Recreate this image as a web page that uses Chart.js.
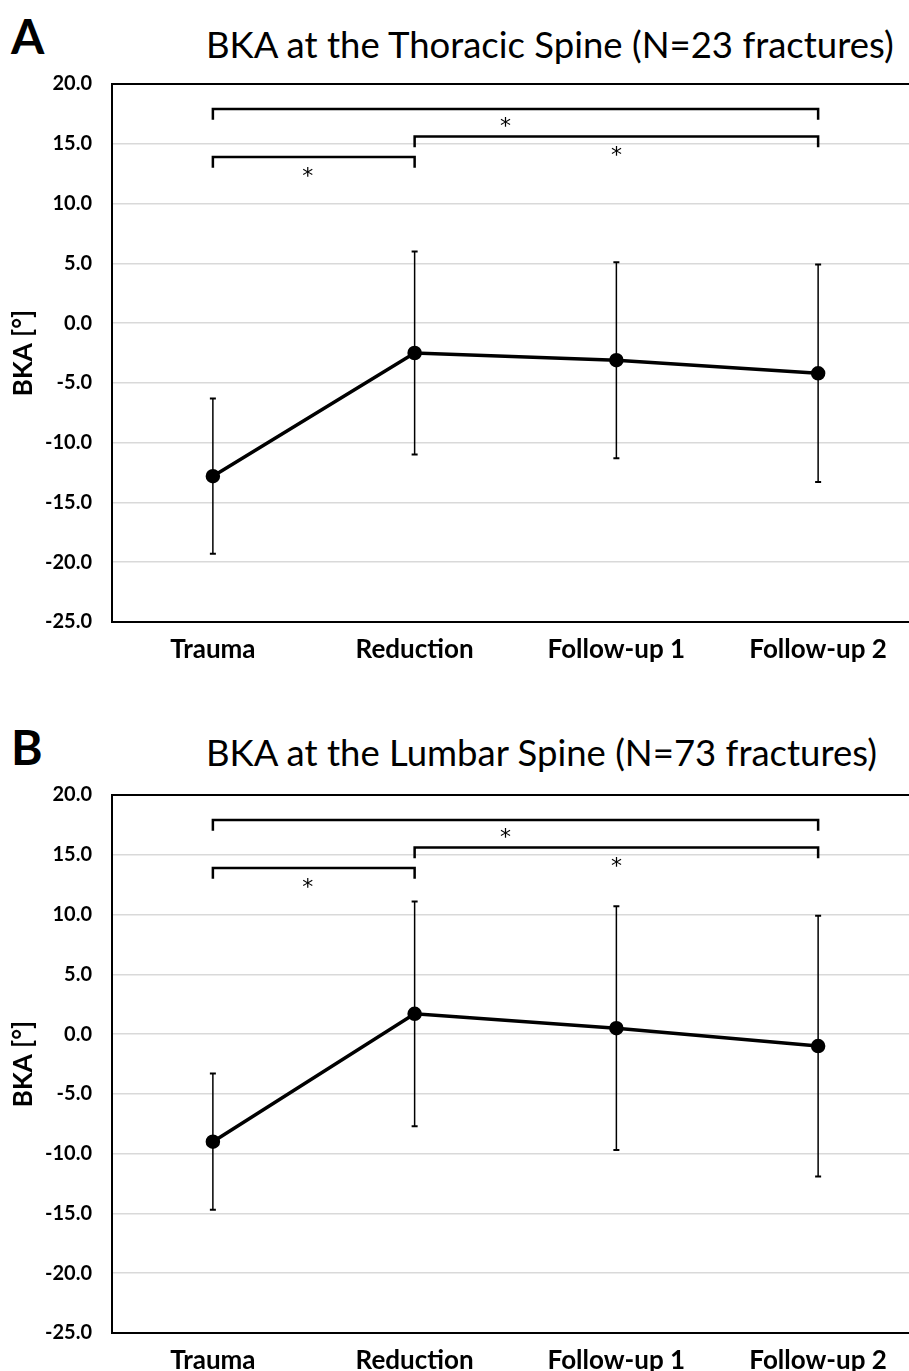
<!DOCTYPE html>
<html>
<head>
<meta charset="utf-8">
<script src="https://cdn.jsdelivr.net/npm/chart.js@4.4.1/dist/chart.umd.min.js"></script>
<style>
  html, body { margin: 0; padding: 0; width: 909px; height: 1371px; overflow: hidden; background: #fff; }
  .panel { position: absolute; left: 0; width: 930px; height: 680px; }
  .letter { position: absolute; left: 11px; font: bold 48px Lato, sans-serif; color: #000; line-height: 1; }
  .title { position: absolute; left: 206px; white-space: nowrap;
           font: 34px Lato, sans-serif; color: #000; line-height: 1; }
</style>
</head>
<body>
<div class="letter" style="top:12px">A</div>
<div class="title" id="title-a" style="top:27px">BKA at the Thoracic Spine (N=23 fractures)</div>
<div class="panel" style="top:0px"><canvas id="chart-a"></canvas></div>

<div class="letter" style="top:723px">B</div>
<div class="title" id="title-b" style="top:735px">BKA at the Lumbar Spine (N=73 fractures)</div>
<div class="panel" style="top:711px"><canvas id="chart-b"></canvas></div>

<script>
// ---- data ----
const categories = ["Trauma", "Reduction", "Follow-up 1", "Follow-up 2"];

const thoracicMean = [-12.8, -2.5, -3.1, -4.2];
const thoracicSd = [6.5, 8.5, 8.2, 9.1];

const lumbarMean = [-9.0, 1.7, 0.5, -1.0];
const lumbarSd = [5.7, 9.4, 10.2, 10.9];

// significance brackets (category index from/to, height in degrees)
const bracketFrom = [0, 1, 0];
const bracketTo = [3, 3, 1];
const bracketY = [17.9, 15.6, 13.9];
const bracketDrop = 0.9;
const starX = [1.45, 2.0, 0.47];
const starY = [16.9, 14.5, 12.7];

const yTicks = [-25, -20, -15, -10, -5, 0, 5, 10, 15, 20];

// size the titles so the thoracic one spans ~690px like the original
(function fitTitles() {
  const c = document.createElement("canvas").getContext("2d");
  c.font = "34px Lato";
  const w = c.measureText(document.getElementById("title-a").textContent).width;
  const size = (34 * 690) / w;
  ["title-a", "title-b"].forEach((id) => {
    const el = document.getElementById(id);
    el.style.fontSize = size.toFixed(1) + "px";
    el.style.top = parseFloat(el.style.top) - (size - 34) * 0.5 + "px";
  });
})();

//------------------------------------------------------
// plugins
//------------------------------------------------------
const frame = {
  id: "frame",
  afterDraw(chart) {
    const { ctx, chartArea: a } = chart;
    ctx.save();
    ctx.strokeStyle = "#000";
    ctx.lineWidth = 2;
    ctx.strokeRect(a.left, a.top, a.right - a.left, a.bottom - a.top);
    ctx.restore();
  },
};

const errorBars = {
  id: "errorBars",
  beforeDatasetsDraw(chart, args, opts) {
    const { ctx, scales } = chart;
    ctx.save();
    ctx.strokeStyle = "#000";
    opts.mean.forEach((m, i) => {
      const x = scales.x.getPixelForValue(i);
      const yTop = scales.y.getPixelForValue(m + opts.sd[i]);
      const yBot = scales.y.getPixelForValue(m - opts.sd[i]);
      ctx.lineWidth = 1.5;
      ctx.beginPath();
      ctx.moveTo(x, yTop);
      ctx.lineTo(x, yBot);
      ctx.stroke();
      ctx.lineWidth = 2;
      ctx.beginPath();
      ctx.moveTo(x - 3, yTop);
      ctx.lineTo(x + 3, yTop);
      ctx.moveTo(x - 3, yBot);
      ctx.lineTo(x + 3, yBot);
      ctx.stroke();
    });
    ctx.restore();
  },
};

const stars = {
  id: "stars",
  afterDatasetsDraw(chart) {
    const { ctx, scales } = chart;
    const size = 22;
    ctx.save();
    ctx.fillStyle = "#000";
    ctx.font = size + "px 'DejaVu Sans', sans-serif";
    ctx.textAlign = "center";
    ctx.textBaseline = "alphabetic";
    starX.forEach((sx, i) => {
      ctx.fillText("*", scales.x.getPixelForValue(sx), scales.y.getPixelForValue(starY[i]) + size * 0.55);
    });
    ctx.restore();
  },
};

//------------------------------------------------------
// chart builder
//------------------------------------------------------
function makeChart(id, mean, sd) {
  const bracketSets = bracketFrom.map((f, i) => ({
    data: [
      { x: f, y: bracketY[i] - bracketDrop },
      { x: f, y: bracketY[i] },
      { x: bracketTo[i], y: bracketY[i] },
      { x: bracketTo[i], y: bracketY[i] - bracketDrop },
    ],
    borderColor: "#000",
    borderWidth: 2.5,
    pointRadius: 0,
    tension: 0,
  }));

  return new Chart(document.getElementById(id), {
    type: "line",
    data: {
      datasets: [
        {
          data: mean.map((m, i) => ({ x: i, y: m })),
          borderColor: "#000",
          backgroundColor: "#000",
          borderWidth: 3.5,
          pointRadius: 5.5,
          pointBackgroundColor: "#000",
        },
        ...bracketSets,
      ],
    },
    options: {
      responsive: true,
      maintainAspectRatio: false,
      animation: false,
      layout: { padding: { top: 84, right: 11, left: 0, bottom: 0 } },
      plugins: {
        legend: { display: false },
        tooltip: { enabled: false },
        errorBars: { mean, sd },
      },
      scales: {
        x: {
          type: "linear",
          min: -0.5,
          max: 3.5,
          afterFit: (s) => { s.height = 58; },
          afterBuildTicks: (s) => { s.ticks = categories.map((_, i) => ({ value: i })); },
          ticks: {
            callback: (v) => categories[v],
            color: "#000",
            font: { family: "Lato", weight: "bold", size: 26 },
            padding: 4,
          },
          grid: { display: false },
          border: { display: false },
        },
        y: {
          min: -25,
          max: 20,
          afterFit: (s) => { s.width = 112; },
          afterBuildTicks: (s) => { s.ticks = yTicks.map((v) => ({ value: v })); },
          ticks: {
            callback: (v) => v.toFixed(1),
            color: "#000",
            font: { family: "Lato", weight: "bold", size: 20 },
            padding: 20,
          },
          grid: { color: "#d9d9d9", lineWidth: 1.5, drawTicks: false },
          border: { display: false },
          title: {
            display: true,
            text: "BKA [°]",
            color: "#000",
            font: { family: "Lato", weight: "bold", size: 26 },
            padding: { top: 8, bottom: 0 },
          },
        },
      },
    },
    plugins: [errorBars, stars, frame],
  });
}

makeChart("chart-a", thoracicMean, thoracicSd);
makeChart("chart-b", lumbarMean, lumbarSd);
</script>
</body>
</html>
